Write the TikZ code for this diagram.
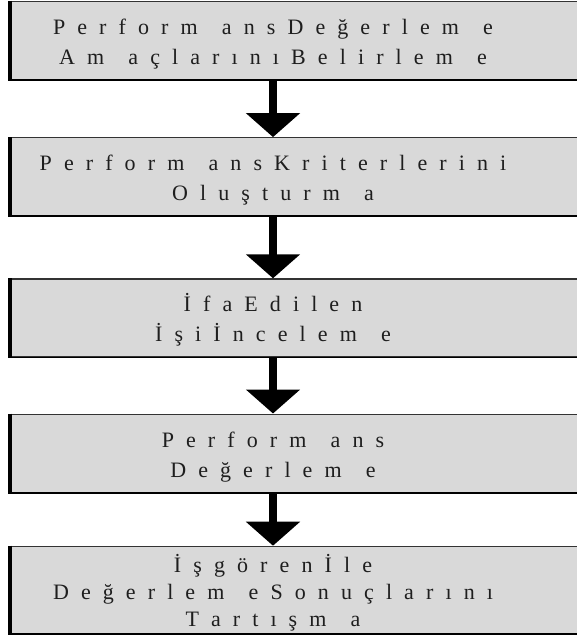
\documentclass[tikz,border=0pt]{standalone}
\usepackage{fontspec}
\setmainfont{Liberation Serif}
\newfontfamily\kutufont[WordSpace={2.2,0,0}]{Liberation Serif}
\usepackage{tikz}
\usetikzlibrary{arrows.meta,positioning}

\definecolor{kutugri}{RGB}{217,217,217}
\definecolor{yazirenk}{RGB}{30,30,30}

\begin{document}
\begin{tikzpicture}[x=1pt,y=-1pt,
      thick,node
      distance=58pt]
    \tikzstyle{kutu}=[draw=black!80,line width=1.2pt,fill=kutugri,
      minimum width=581pt,minimum height=78pt,inner sep=0pt]
    \tikzstyle{yazi}=[text=yazirenk,inner sep=0pt,
      font={\kutufont\fontsize{22}{30}\selectfont}]
    \tikzstyle{ok}=[line width=8.5pt,-{Triangle[width=53pt,length=24pt]}]
    \useasboundingbox (0,0) rectangle (577,641);

    \node [kutu] (amac) at (299.5,40.5) {};
    \node [kutu,below=57pt of amac] (kriter) {};
    \node [kutu,below=62pt of kriter] (ifa) {};
    \node [kutu,below=56pt of ifa] (degerleme) {};
    \node [kutu,below=53pt of degerleme,minimum height=87pt] (tartisma) {};

    % kalin sol kenar ve alt kenar
    \foreach \k in {amac,kriter,ifa,degerleme,tartisma} {
      \draw [line width=3.5pt] ([xshift=1.5pt]\k.north west) -- ([xshift=1.5pt]\k.south west);
      \draw [line width=1.8pt] (\k.south west) -- (\k.south east);
    }

    \node [yazi] (amacyazi) at ([xshift=-26.5pt,yshift=-3pt]amac) {
      \begin{tabular}{c}
        P e r f o r m\ \ a n s D e ğ e r l e m\ \ e\\
        A m\ \ a ç l a r ı n ı B e l i r l e m\ \ e
      \end{tabular}};
    \node [yazi] (kriteryazi) at ([xshift=-26.5pt,yshift=-3pt]kriter) {
      \begin{tabular}{c}
        P e r f o r m\ \ a n s K r i t e r l e r i n i\\
        O l u ş t u r m\ \ a
      \end{tabular}};
    \node [yazi] (ifayazi) at ([xshift=-26.5pt,yshift=-3pt]ifa) {
      \begin{tabular}{c}
        İ f a E d i l e n\\
        İ ş i İ n c e l e m\ \ e
      \end{tabular}};
    \node [yazi] (degerlemeyazi) at ([xshift=-26.5pt,yshift=-3pt]degerleme) {
      \begin{tabular}{c}
        P e r f o r m\ \ a n s\\
        D e ğ e r l e m\ \ e
      \end{tabular}};
    \node [yazi,font={\kutufont\fontsize{22}{27}\selectfont}] (tartismayazi)
      at ([xshift=-26.5pt,yshift=-4pt]tartisma) {
      \begin{tabular}{c}
        İ ş g ö r e n İ l e\\
        D e ğ e r l e m\ \ e S o n u ç l a r ı n ı\\
        T a r t ı ş m\ \ a
      \end{tabular}};

    \path
    ([xshift=-26.5pt]amac.south) edge [ok] ([xshift=-26.5pt]kriter.north)
    ([xshift=-26.5pt]kriter.south) edge [ok] ([xshift=-26.5pt]ifa.north)
    ([xshift=-26.5pt]ifa.south) edge [ok] ([xshift=-26.5pt]degerleme.north)
    ([xshift=-26.5pt]degerleme.south) edge [ok] ([xshift=-26.5pt]tartisma.north)
    ;

  \end{tikzpicture}
\end{document}
